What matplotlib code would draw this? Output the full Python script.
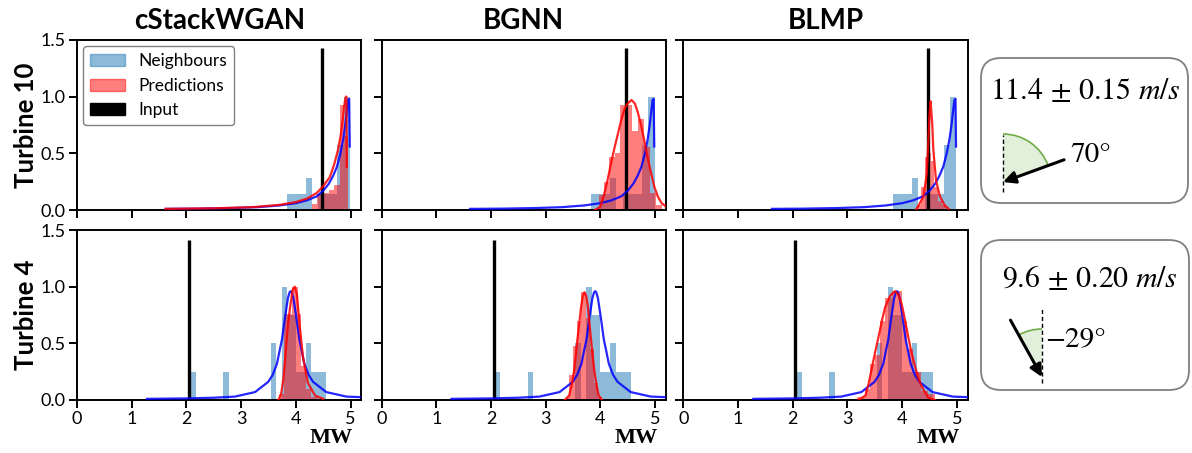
import matplotlib
matplotlib.use('Agg')
import matplotlib.pyplot as plt
from matplotlib.patches import Patch, FancyBboxPatch, Wedge, Arc, FancyArrowPatch
import numpy as np

plt.rcParams['font.family'] = ['Lato', 'DejaVu Sans']
plt.rcParams['mathtext.fontset'] = 'stix'

methods = ['cStackWGAN', 'BGNN', 'BLMP']
turbines = ['Turbine 10', 'Turbine 4']

# ---- Turbine 10 (top row) ----
input_t10 = 4.47
input_h_t10 = 1.43
nb_edges_t10 = [3.83, 3.946, 4.062, 4.178, 4.294, 4.41, 4.526, 4.642, 4.758, 4.874, 4.99]
nb_vals_t10 = [0.14, 0.14, 0.14, 0.28, 0.0, 0.14, 0.14, 0.14, 0.57, 1.0]
nb_x_t10 = [1.62, 2.2, 2.8, 3.3, 3.7, 4.0, 4.2, 4.38, 4.5, 4.6, 4.68, 4.75, 4.81, 4.86,
            4.9, 4.93, 4.955, 4.975, 4.985]
nb_y_t10 = [0.01, 0.012, 0.017, 0.025, 0.04, 0.06, 0.085, 0.12, 0.17, 0.23, 0.3, 0.38, 0.49, 0.61,
            0.74, 0.87, 0.97, 0.98, 0.56]

cs_edges_t10 = [4.3, 4.38, 4.5, 4.6, 4.7, 4.8, 4.88, 4.96]
cs_vals_t10 = [0.05, 0.14, 0.15, 0.18, 0.22, 0.93, 0.65]
cs_x_t10 = [1.62, 2.5, 3.2, 3.7, 4.0, 4.2, 4.38, 4.5, 4.62, 4.7, 4.77, 4.82, 4.85, 4.88,
            4.9, 4.915, 4.925, 4.93]
cs_y_t10 = [0.01, 0.015, 0.025, 0.045, 0.07, 0.1, 0.15, 0.21, 0.29, 0.4, 0.53, 0.66, 0.77, 0.9,
            0.97, 1.0, 1.0, 0.38]

bg_edges_t10 = [3.98, 4.07, 4.16, 4.26, 4.36, 4.46, 4.57, 4.68, 4.8, 4.91, 5.02, 5.12]
bg_vals_t10 = [0.13, 0.25, 0.47, 0.5, 0.93, 0.93, 0.7, 0.8, 0.56, 0.15, 0.04]
bg_x_t10 = [3.9, 4.0, 4.06, 4.13, 4.19, 4.25, 4.32, 4.38, 4.44, 4.5, 4.57, 4.63, 4.68, 4.74,
            4.8, 4.86, 4.93, 4.99, 5.05, 5.12, 5.2]
bg_y_t10 = [0.0, 0.03, 0.12, 0.26, 0.4, 0.53, 0.67, 0.79, 0.89, 0.94, 0.97, 0.94, 0.87, 0.76,
            0.62, 0.47, 0.32, 0.2, 0.12, 0.06, 0.03]

bl_edges_t10 = [4.27, 4.34, 4.41, 4.47, 4.53, 4.59, 4.65, 4.72, 4.8]
bl_vals_t10 = [0.04, 0.2, 0.47, 0.5, 0.43, 0.2, 0.08, 0.04]
bl_x_t10 = [4.25, 4.3, 4.39, 4.45, 4.48, 4.5, 4.52, 4.55, 4.57, 4.62, 4.69, 4.78, 4.85]
bl_y_t10 = [0.0, 0.04, 0.12, 0.32, 0.62, 0.85, 0.96, 0.76, 0.53, 0.26, 0.12, 0.04, 0.01]

# ---- Turbine 4 (bottom row) ----
input_t4 = 2.05
input_h_t4 = 1.41
nb_edges_t4 = [2.07, 2.17, 2.67, 2.77, 3.54, 3.64, 3.74, 3.84, 4.0, 4.18, 4.28, 4.56]
nb_vals_t4 = [0.25, 0.0, 0.25, 0.0, 0.5, 0.0, 1.0, 0.75, 0.25, 0.5, 0.25]
nb_x_t4 = [1.28, 2.0, 2.5, 2.885, 3.255, 3.495, 3.575, 3.655, 3.705, 3.745, 3.805, 3.855, 3.885,
           3.905, 3.925, 3.955, 4.005, 4.065, 4.105, 4.155, 4.235, 4.315, 4.555, 4.925, 5.2]
nb_y_t4 = [0.01, 0.014, 0.02, 0.03, 0.07, 0.16, 0.22, 0.32, 0.44, 0.53, 0.74, 0.9, 0.95,
           0.96, 0.95, 0.9, 0.74, 0.53, 0.44, 0.32, 0.22, 0.16, 0.07, 0.03, 0.025]

cs_edges_t4 = [3.69, 3.78, 3.87, 3.93, 4.04, 4.1, 4.19, 4.28, 4.4]
cs_vals_t4 = [0.05, 0.76, 0.76, 1.0, 0.76, 0.3, 0.1, 0.03]
cs_x_t4 = [3.68, 3.73, 3.77, 3.8, 3.83, 3.86, 3.89, 3.94, 3.98, 4.02, 4.07, 4.13, 4.22, 4.35, 4.5]
cs_y_t4 = [0.0, 0.05, 0.18, 0.34, 0.52, 0.68, 0.8, 0.97, 1.0, 0.93, 0.66, 0.38, 0.15, 0.04, 0.01]

bg_edges_t4 = [3.37, 3.43, 3.5, 3.58, 3.65, 3.74, 3.81, 3.88, 3.95, 4.03]
bg_vals_t4 = [0.03, 0.22, 0.48, 0.7, 0.95, 0.72, 0.45, 0.15, 0.03]
bg_x_t4 = [3.35, 3.43, 3.48, 3.52, 3.55, 3.58, 3.62, 3.65, 3.68, 3.71, 3.74, 3.77, 3.8, 3.83,
           3.86, 3.89, 3.93, 3.97, 4.03]
bg_y_t4 = [0.0, 0.04, 0.14, 0.26, 0.39, 0.53, 0.7, 0.83, 0.92, 0.95, 0.92, 0.83, 0.68, 0.53,
           0.39, 0.26, 0.13, 0.04, 0.0]

bl_edges_t4 = [3.02, 3.17, 3.33, 3.42, 3.51, 3.6, 3.69, 3.81, 3.99, 4.08, 4.2, 4.35, 4.47, 4.6]
bl_vals_t4 = [0.01, 0.03, 0.1, 0.32, 0.4, 0.7, 0.9, 0.96, 0.7, 0.45, 0.25, 0.08, 0.05]
bl_x_t4 = [3.2, 3.33, 3.39, 3.45, 3.51, 3.57, 3.63, 3.69, 3.78, 3.87, 3.93, 3.99, 4.05, 4.11,
           4.17, 4.24, 4.31, 4.39, 4.48, 4.6]
bl_y_t4 = [0.0, 0.04, 0.15, 0.29, 0.43, 0.56, 0.7, 0.82, 0.92, 0.96, 0.93, 0.85, 0.71, 0.56,
           0.42, 0.29, 0.17, 0.09, 0.02, 0.0]

# wind info per row
wind_speed = ['11.4', '9.6']
wind_std = ['0.15', '0.20']
wind_dir = [70, -29]

rows = [
    dict(inp=input_t10, inp_h=input_h_t10, nb=(nb_edges_t10, nb_vals_t10, nb_x_t10, nb_y_t10),
         preds=[(cs_edges_t10, cs_vals_t10, cs_x_t10, cs_y_t10),
                (bg_edges_t10, bg_vals_t10, bg_x_t10, bg_y_t10),
                (bl_edges_t10, bl_vals_t10, bl_x_t10, bl_y_t10)]),
    dict(inp=input_t4, inp_h=input_h_t4, nb=(nb_edges_t4, nb_vals_t4, nb_x_t4, nb_y_t4),
         preds=[(cs_edges_t4, cs_vals_t4, cs_x_t4, cs_y_t4),
                (bg_edges_t4, bg_vals_t4, bg_x_t4, bg_y_t4),
                (bl_edges_t4, bl_vals_t4, bl_x_t4, bl_y_t4)]),
]

W, H = 1192, 453
fig = plt.figure(figsize=(W / 100, H / 100), dpi=100)

col_left = [77, 381.5, 683.3]
row_top = [40, 230]
aw, ah = 284.5, 170

for r in range(2):
    d = rows[r]
    for c in range(3):
        ax = fig.add_axes([col_left[c] / W, (H - row_top[r] - ah) / H, aw / W, ah / H])
        ne, nv, nx, ny = d['nb']
        pe, pv, px, py = d['preds'][c]
        ax.stairs(nv, ne, fill=True, color='#1f77b4', alpha=0.5, lw=0)
        ax.stairs(pv, pe, fill=True, color='red', alpha=0.5, lw=0)
        ax.vlines(d['inp'], 0, d['inp_h'], color='k', lw=2.4, zorder=3)
        ax.plot(nx, ny, color='blue', lw=1.6, alpha=0.85, zorder=4)
        ax.plot(px, py, color='red', lw=1.6, alpha=0.85, zorder=4)
        ax.set_xlim(0, 5.2)
        ax.set_ylim(0, 1.5)
        ax.set_xticks([0, 1, 2, 3, 4, 5])
        ax.set_yticks([0, 0.5, 1.0, 1.5])
        ax.tick_params(direction='out', length=6, width=1.4, labelsize=13, pad=2)
        for s in ax.spines.values():
            s.set_linewidth(1.4)
        if r == 0:
            ax.tick_params(labelbottom=False)
            ax.set_title(methods[c], fontsize=20, fontweight='bold', pad=8)
        else:
            ax.text(0.895, -0.165, 'MW', transform=ax.transAxes, ha='center', va='top',
                    fontsize=16, fontweight='bold', family='Liberation Serif')
        if c > 0:
            ax.tick_params(labelleft=False)
        else:
            ax.set_ylabel(turbines[r], fontsize=18.5, fontweight='bold', labelpad=2)
        if r == 0 and c == 0:
            handles = [Patch(color='#1f77b4', alpha=0.5), Patch(color='red', alpha=0.5),
                       Patch(color='k')]
            leg = ax.legend(handles, ['Neighbours', 'Predictions', 'Input'], loc='upper left',
                            fontsize=12.5, fancybox=True, framealpha=1, borderaxespad=0.35,
                            handlelength=2.0)
            leg.get_frame().set_edgecolor('0.5')

# right-hand wind boxes, drawn in pixel space
ov = fig.add_axes([0, 0, 1, 1])
ov.set_xlim(0, W)
ov.set_ylim(0, H)
ov.axis('off')

boxes = [(981, 58, 207, 145), (981, 240, 208, 150)]
speed_pos = [(1085, 90), (1090, 278)]
centers = [(1003, 182), (1042, 377)]
dash_ext = [(47, 10), (69, 6)]
deg_pos = [(1070, 155), (1045, 340)]

for i in range(2):
    bx, by, bw, bh = boxes[i]
    ov.add_patch(FancyBboxPatch((bx, H - by - bh), bw, bh,
                                boxstyle='round,pad=0,rounding_size=20',
                                fc='white', ec='#808080', lw=1.3))
    sx, sy = speed_pos[i]
    ov.text(sx, H - sy, r'$%s \,\pm\, %s\ m/s$' % (wind_speed[i], wind_std[i]),
            ha='center', va='center', fontsize=21.5)
    cx, cy = centers[i]
    cy = H - cy
    a = wind_dir[i]
    rad = 48
    th1, th2 = (90 - a, 90) if a > 0 else (90, 90 - a)
    ov.add_patch(Wedge((cx, cy), rad, th1, th2, fc='#e2efda', ec='none'))
    ov.add_patch(Arc((cx, cy), 2 * rad, 2 * rad, theta1=th1, theta2=th2, color='#70ad47', lw=1.2))
    up, dn = dash_ext[i]
    ov.plot([cx, cx], [cy - dn, cy + up], color='k', lw=1, ls=(0, (3, 2)))
    L = 65
    start = (cx + L * np.sin(np.radians(a)), cy + L * np.cos(np.radians(a)))
    ov.add_patch(FancyArrowPatch(start, (cx, cy), arrowstyle='-|>', mutation_scale=18,
                                 color='k', lw=2.2, shrinkA=0, shrinkB=0))
    dx, dy = deg_pos[i]
    ov.text(dx, H - dy, '%d°' % a if a > 0 else '\u2212%d°' % -a, ha='left', va='center',
            fontsize=21, family='STIXGeneral')

fig.savefig('out.png', dpi=100)
